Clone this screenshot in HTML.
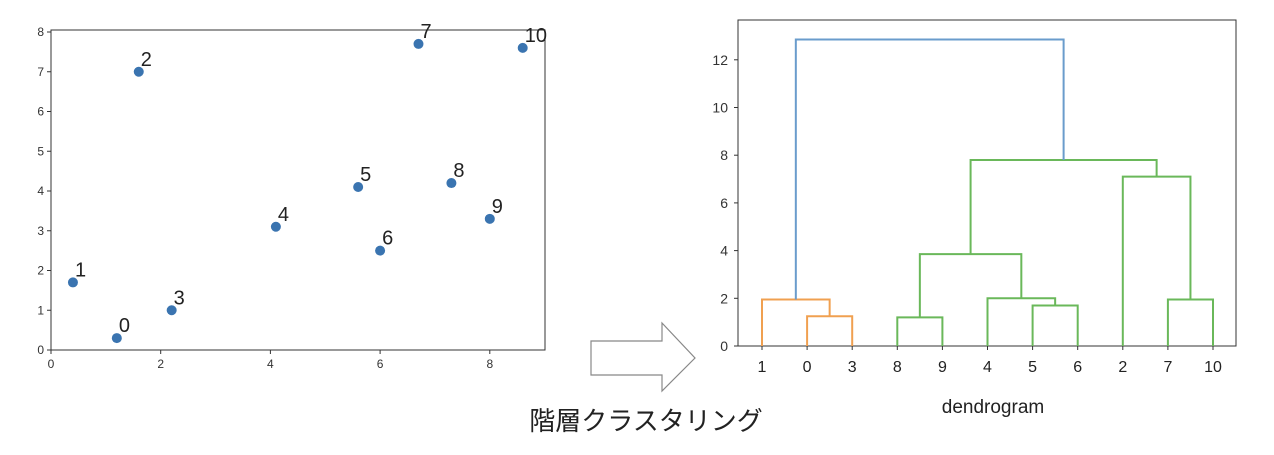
<!DOCTYPE html>
<html><head><meta charset="utf-8"><style>
body{margin:0;background:#fff;width:1274px;height:450px;overflow:hidden}
svg{font-family:"Liberation Sans","DejaVu Sans","Noto Sans CJK JP",sans-serif}
</style></head><body>
<svg id="s" width="1274" height="450">
<polygon points="591,341 662,341 662,323 695,358 662,391 662,375 591,375" fill="#fff" stroke="#888" stroke-width="1.2"/>
<text x="646" y="430" font-size="26" text-anchor="middle" fill="#222">階層クラスタリング</text>
<text x="993" y="413" font-size="19" text-anchor="middle" fill="#222">dendrogram</text>
</svg>
<script>
const ptX=[1.2,0.4,1.6,2.2,4.1,5.6,6.0,6.7,7.3,8.0,8.6];
const ptY=[0.3,1.7,7.0,1.0,3.1,4.1,2.5,7.7,4.2,3.3,7.6];
const xTicks=[0,2,4,6,8];
const yTicks=[0,1,2,3,4,5,6,7,8];
const leaves=['1','0','3','8','9','4','5','6','2','7','10'];
const dTicks=[0,2,4,6,8,10,12];
const linkL=[1,0,3,6,5,3.5,9,8,4.625,0.75];
const linkR=[2,1.5,4,7,6.5,5.75,10,9.5,8.75,6.6875];
const linkLB=[0,0,0,0,0,1.2,0,0,3.85,1.95];
const linkRB=[0,1.25,0,0,1.7,2.0,0,1.95,7.1,7.8];
const linkH=[1.25,1.95,1.2,1.7,2.0,3.85,1.95,7.1,7.8,12.85];
const linkC=['o','o','g','g','g','g','g','g','g','b'];
const C={o:'#f0a050',g:'#6ab85a',b:'#6a9ccc'};
const s=document.getElementById('s');const NS='http://www.w3.org/2000/svg';
function mk(t,a,txt){const e=document.createElementNS(NS,t);for(const k in a)e.setAttribute(k,a[k]);if(txt!=null)e.textContent=txt;s.appendChild(e);return e;}
const X=v=>51+v*54.85, Y=v=>350-v*39.75;
let e=mk('rect',{x:51,y:30,width:494,height:320,fill:'none',stroke:'#333','stroke-width':1});


xTicks.forEach(t=>{mk('line',{x1:X(t),x2:X(t),y1:350,y2:354,stroke:'#333'});
e=mk('text',{x:X(t),y:368,'font-size':12,'text-anchor':'middle',fill:'#333'},t);

});
yTicks.forEach(t=>{mk('line',{x1:47,x2:51,y1:Y(t),y2:Y(t),stroke:'#333'});
e=mk('text',{x:44,y:Y(t)+4,'font-size':12,'text-anchor':'end',fill:'#333'},t);

});
ptX.forEach((v,i)=>{e=mk('circle',{cx:X(v),cy:Y(ptY[i]),r:5,fill:'#3a74b0'});


e=mk('text',{x:X(v)+2,y:Y(ptY[i])-6,'font-size':20,fill:'#222'},i);

});
const DX=p=>762+p*45.1, DY=h=>346-h*23.85;
mk('rect',{x:738,y:20,width:498,height:326,fill:'none',stroke:'#333'});
dTicks.forEach(t=>{mk('line',{x1:734,x2:738,y1:DY(t),y2:DY(t),stroke:'#333'});
e=mk('text',{x:728,y:DY(t)+5,'font-size':14,'text-anchor':'end',fill:'#333'},t);

});
leaves.forEach((l,i)=>{mk('line',{x1:DX(i),x2:DX(i),y1:346,y2:350,stroke:'#333'});
e=mk('text',{x:DX(i),y:372,'font-size':16,'text-anchor':'middle',fill:'#222'},l);

});
linkL.forEach((l,i)=>{const r=linkR[i],h=linkH[i];
e=mk('polyline',{points:`${DX(l)},${DY(linkLB[i])} ${DX(l)},${DY(h)} ${DX(r)},${DY(h)} ${DX(r)},${DY(linkRB[i])}`,fill:'none',stroke:C[linkC[i]],'stroke-width':2});

});
</script>
</body></html>
